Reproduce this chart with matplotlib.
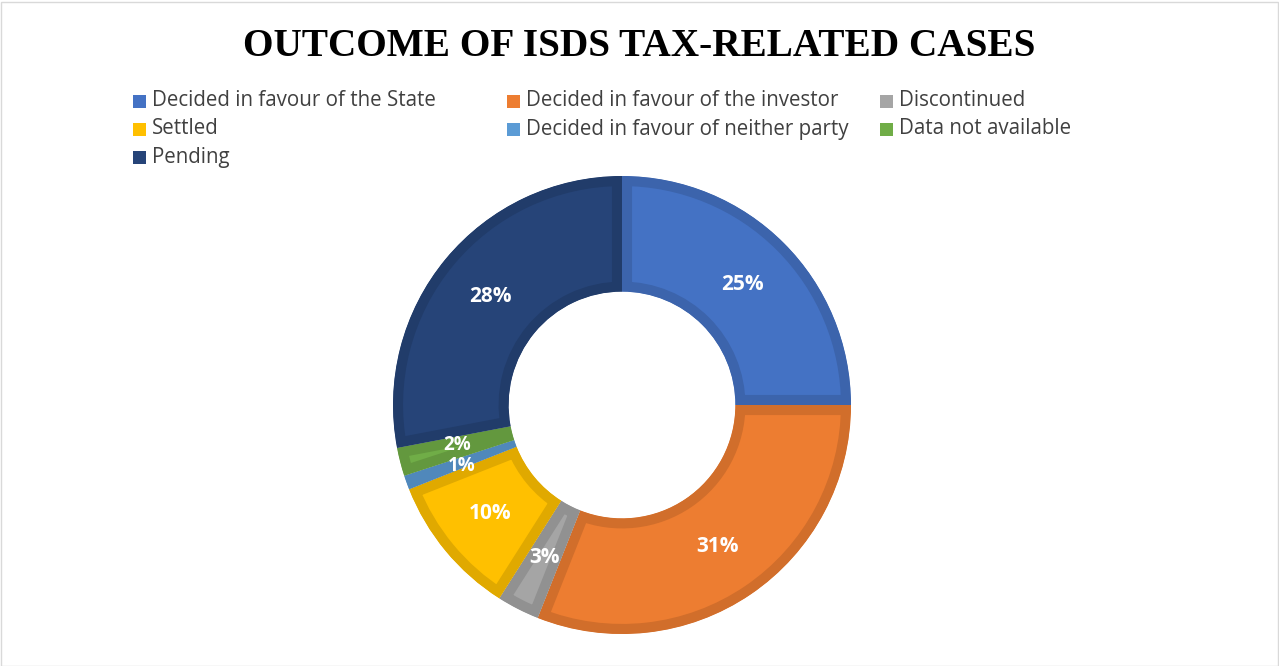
import matplotlib
matplotlib.use("Agg")
import matplotlib.pyplot as plt
from matplotlib.patches import Rectangle
import matplotlib.colors as mcolors

categories = [
    "Decided in favour of the State",
    "Decided in favour of the investor",
    "Discontinued",
    "Settled",
    "Decided in favour of neither party",
    "Data not available",
    "Pending",
]
shares = [25, 31, 3, 10, 1, 2, 28]
colors = ["#4472C4", "#ED7D31", "#A5A5A5", "#FFC000", "#5B9BD5", "#70AD47", "#264478"]

W, H = 1279, 666
fig = plt.figure(figsize=(W / 100, H / 100), dpi=100)
fig.patch.set_facecolor("white")

# donut: centre (622, 405) px from top-left, outer radius 229 px
cx, cy, r = 622, 405, 229
ax = fig.add_axes([(cx - r) / W, (H - cy - r) / H, 2 * r / W, 2 * r / H])

def darker(c, f=0.88):
    rgb = mcolors.to_rgb(c)
    return tuple(v * f for v in rgb)

wedges, _, autotexts = ax.pie(
    shares, colors=colors, startangle=90, counterclock=False,
    radius=1.0, autopct=lambda p: f"{p:.0f}%", pctdistance=0.745,
    wedgeprops=dict(width=0.505, linewidth=0),
    textprops=dict(color="white", fontsize=15, fontweight="bold", family="Open Sans"),
)
for w, c in zip(wedges, colors):
    w.set_edgecolor(darker(c))
    w.set_linewidth(14.5)
    w.set_joinstyle("miter")
    w.set_clip_on(True)
    w.set_clip_path(w.get_path(), w.get_transform())

# the two thin slices sit close together: tighten their labels a bit
for t, dy in ((autotexts[5], 0.012), (autotexts[4], -0.012)):
    x, y = t.get_position()
    t.set_position((x, y + dy))
    t.set_fontsize(13.5)

ax.set_xlim(-1, 1)
ax.set_ylim(-1, 1)
ax.axis("off")

fig.text(0.5, 1 - 46 / H, "OUTCOME OF ISDS TAX-RELATED CASES",
         ha="center", va="center", fontsize=28.3, fontweight="bold",
         family="Liberation Serif", color="#000000")

# legend laid out row-wise, like the original
col_x = [133, 507, 880]
row_y = [101, 129, 158]
sq = 13
for i, (name, c) in enumerate(zip(categories, colors)):
    row, col = divmod(i, 3)
    x, y = col_x[col], row_y[row]
    fig.patches.append(Rectangle((x / W, (H - y - sq / 2) / H), sq / W, sq / H,
                                 transform=fig.transFigure, facecolor=c,
                                 edgecolor="none"))
    fig.text((x + sq + 6) / W, (H - y) / H, name, ha="left", va="center",
             fontsize=14.8, family="Open Sans", color="#404040")

fig.patches.append(Rectangle((0.5 / W, 0.5 / H), (W - 2) / W, (H - 2) / H,
                             transform=fig.transFigure, facecolor="none",
                             edgecolor="#D9D9D9", linewidth=1))

fig.savefig("out.png", dpi=100)
